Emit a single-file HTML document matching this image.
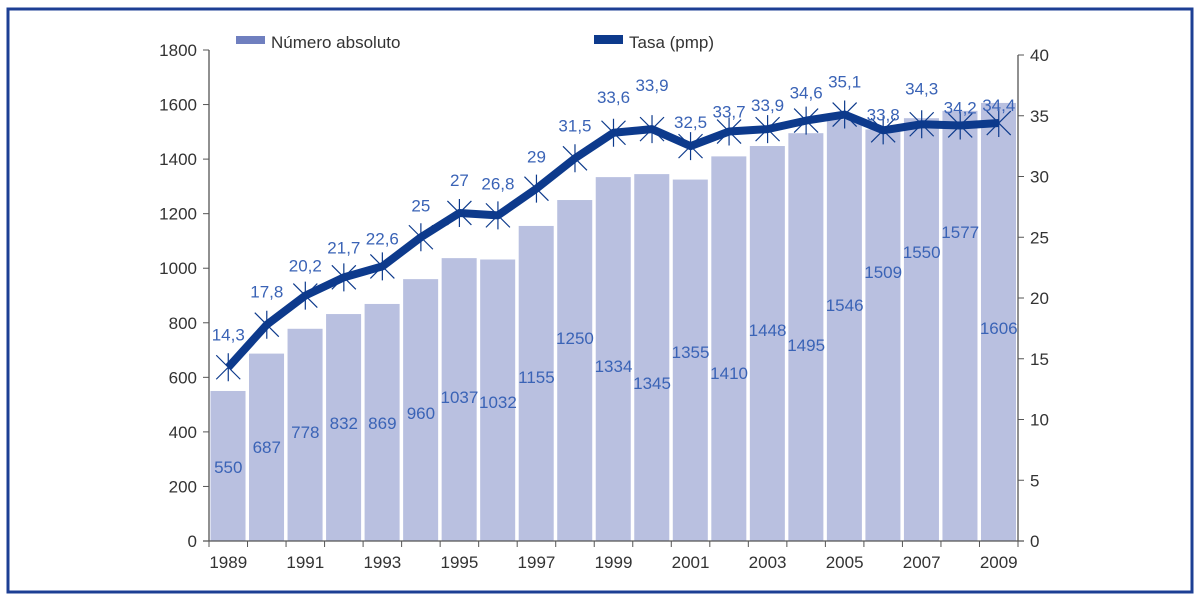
<!DOCTYPE html>
<html><head><meta charset="utf-8"><style>
body{margin:0;background:#fff;width:1200px;height:598px;overflow:hidden}
svg{font-family:"Liberation Sans",sans-serif}
</style></head><body>
<svg width="1200" height="598">
<rect x="8" y="9" width="1184" height="583" fill="none" stroke="#1d3f94" stroke-width="3"/>
<g id="g"></g>
</svg>
<script>
const years=[1989,1990,1991,1992,1993,1994,1995,1996,1997,1998,1999,2000,2001,2002,2003,2004,2005,2006,2007,2008,2009];
const absVals=[550,687,778,832,869,960,1037,1032,1155,1250,1334,1345,1325,1410,1448,1495,1546,1509,1550,1577,1606];
const absLabels=["550","687","778","832","869","960","1037","1032","1155","1250","1334","1345","1355","1410","1448","1495","1546","1509","1550","1577","1606"];
const rateVals=[14.3,17.8,20.2,21.7,22.6,25,27,26.8,29,31.5,33.6,33.9,32.5,33.7,33.9,34.6,35.1,33.8,34.3,34.2,34.4];
const rateLabels=["14,3","17,8","20,2","21,7","22,6","25","27","26,8","29","31,5","33,6","33,9","32,5","33,7","33,9","34,6","35,1","33,8","34,3","34,2","34,4"];
const leftTicks=[0,200,400,600,800,1000,1200,1400,1600,1800];
const rightTicks=[0,5,10,15,20,25,30,35,40];
// layout (not data): label y-positions for bar value labels
const absLabelY=[467,447,432,423,423,413,397,402,377,338,366,383,352,373,330,345,305,272,252,232,328];
const rateLabelDy=[-33,-33,-30,-30,-28,-32,-33,-32,-32,-33,-36,-44,-24,-20,-24,-28,-33,-16,-36,-18,-18];
const NS="http://www.w3.org/2000/svg",g=document.getElementById('g');
const X0=209,X1=1018,Y0=541,n=years.length,slot=(X1-X0)/n;
const yL=v=>Y0-v*(491/1800), yR=v=>Y0-v*(486/40), xC=i=>X0+slot*(i+0.5);
function mk(t,a,txt){const e=document.createElementNS(NS,t);for(const k in a)e.setAttribute(k,a[k]);if(txt!=null)e.textContent=txt;g.appendChild(e);return e;}
absVals.forEach((v,i)=>{const r=mk('rect',{x:X0+slot*i+1.5,y:yL(v),width:slot-3.5,height:Y0-yL(v),fill:'#b9c0e0'});

});
let a=mk('line',{x1:X0,y1:50,x2:X0,y2:Y0,stroke:'#555','stroke-width':1.3});
a=mk('line',{x1:X1,y1:55,x2:X1,y2:Y0,stroke:'#555','stroke-width':1.3});
a=mk('line',{x1:X0-6,y1:Y0,x2:X1+6,y2:Y0,stroke:'#555','stroke-width':1.3});
leftTicks.forEach(v=>{mk('line',{x1:X0-6,y1:yL(v),x2:X0,y2:yL(v),stroke:'#555'});
const t=mk('text',{x:X0-12,y:yL(v)+6,'text-anchor':'end','font-size':17,fill:'#333'},v);

});
rightTicks.forEach(v=>{mk('line',{x1:X1,y1:yR(v),x2:X1+6,y2:yR(v),stroke:'#555'});
const t=mk('text',{x:X1+12,y:yR(v)+6,'font-size':17,fill:'#333'},v);

});
for(let i=0;i<=n;i++)mk('line',{x1:X0+slot*i,y1:Y0,x2:X0+slot*i,y2:Y0+6,stroke:'#555'});
years.forEach((y,i)=>{if(i%2==0){const t=mk('text',{x:xC(i),y:568,'text-anchor':'middle','font-size':17,fill:'#333'},y);

}});
absLabels.forEach((s,i)=>{const t=mk('text',{x:xC(i),y:absLabelY[i]+6,'text-anchor':'middle','font-size':17,fill:'#3a63b6'},s);

});
const pts=rateVals.map((v,i)=>xC(i)+','+yR(v)).join(' ');
const pl=mk('polyline',{points:pts,fill:'none',stroke:'#0d3a8c','stroke-width':8,'stroke-linejoin':'round'});


rateVals.forEach((v,i)=>{const cx=xC(i),cy=yR(v),s=12;
const p=mk('path',{d:`M${cx-s} ${cy-s}L${cx+s} ${cy+s}M${cx-s} ${cy+s}L${cx+s} ${cy-s}M${cx} ${cy-s-2}L${cx} ${cy+s+2}`,stroke:'#0d3a8c','stroke-width':1.2,fill:'none'});


const t=mk('text',{x:cx,y:cy+rateLabelDy[i]+6,'text-anchor':'middle','font-size':17,fill:'#3a63b6'},rateLabels[i]);

});
let l=mk('rect',{x:236,y:36,width:29,height:8,fill:'#6f7fbf'});
l=mk('text',{x:271,y:48,'font-size':17,fill:'#333'},'Número absoluto');
l=mk('rect',{x:594,y:35,width:29,height:9,fill:'#0d3a8c'});
l=mk('text',{x:629,y:48,'font-size':17,fill:'#333'},'Tasa (pmp)');
</script>
</body></html>
